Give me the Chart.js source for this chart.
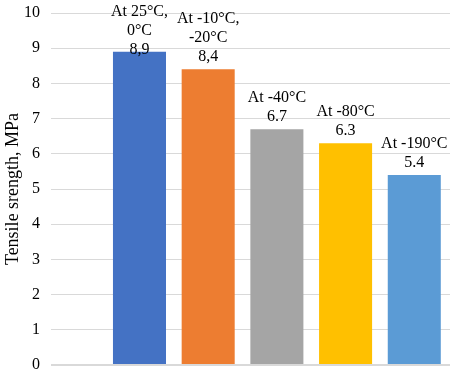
<!DOCTYPE html>
<html>
<head>
<meta charset="utf-8">
<script src="https://cdn.jsdelivr.net/npm/chart.js@4/dist/chart.umd.min.js"></script>
<style>
  html, body { margin: 0; padding: 0; background: #fff; }
  #wrap { width: 456px; height: 375px; }
</style>
</head>
<body>
<div id="wrap"><canvas id="strength"></canvas></div>
<script>
// chart values
var positions = [1, 2, 3, 4, 5];
var strength = [8.9, 8.4, 6.7, 6.3, 5.4];
var tempLabels = [['At 25°C,', '0°C'], ['At -10°C,', '-20°C'], ['At -40°C'], ['At -80°C'], ['At -190°C']];
var valueLabels = ['8,9', '8,4', '6.7', '6.3', '5.4'];
var barColors = ['#4472C4', '#ED7D31', '#A5A5A5', '#FFC000', '#5B9BD5'];
var yTicks = [0, 1, 2, 3, 4, 5, 6, 7, 8, 9, 10];

var serif = '"Liberation Serif", "Times New Roman", serif';

// draws the temperature + value text above every bar
var barLabels = {
  id: 'barLabels',
  afterDatasetsDraw: function(chart) {
    var ctx = chart.ctx;
    var meta = chart.getDatasetMeta(0);
    ctx.save();
    ctx.font = '16px ' + serif;
    ctx.fillStyle = '#000';
    ctx.textAlign = 'center';
    ctx.textBaseline = 'alphabetic';
    meta.data.forEach(function(bar, i) {
      var lines = tempLabels[i].concat([valueLabels[i]]);
      var lh = 19;
      var first = bar.y - 8 - lh * (lines.length - 1);
      if (first < 16) first = 16;
      lines.forEach(function(t, k) {
        ctx.fillText(t, bar.x, first + k * lh);
      });
    });
    ctx.restore();
  }
};

var ctx = document.getElementById('strength');
var myChart = new Chart(ctx, {
  type: 'bar',
  data: {
    labels: positions,
    datasets: [{
      data: positions.map(function(p, i) { return {x: p, y: strength[i]}; }),
      backgroundColor: barColors,
      borderWidth: 0,
      barPercentage: 0.772,
      categoryPercentage: 1
    }]
  },
  plugins: [barLabels],
  options: {
    responsive: true,
    maintainAspectRatio: false,
    animation: false,
    layout: { padding: { top: 13, right: 6, bottom: 10, left: 0 } },
    plugins: {
      legend: { display: false },
      tooltip: { enabled: false }
    },
    scales: {
      x: {
        type: 'linear',
        min: -0.288,
        max: 5.52,
        offset: false,
        display: false
      },
      y: {
        min: 0,
        max: 10,
        afterBuildTicks: function(scale) {
          scale.ticks = yTicks.map(function(v) { return {value: v}; });
        },
        afterFit: function(scale) {
          scale.width = 51;
          scale.paddingTop = 0;
          scale.paddingBottom = 0;
        },
        border: { display: false },
        grid: {
          drawTicks: false,
          color: '#D9D9D9',
          lineWidth: function(c) { return c.tick && c.tick.value === 0 ? 2 : 1; }
        },
        ticks: {
          padding: 11,
          color: '#000',
          font: { family: serif, size: 16 }
        },
        title: {
          display: true,
          text: 'Tensile srength, MPa',
          color: '#000',
          padding: { top: 2, bottom: 4 },
          font: { family: serif, size: 18 }
        }
      }
    }
  }
});
</script>
</body>
</html>
